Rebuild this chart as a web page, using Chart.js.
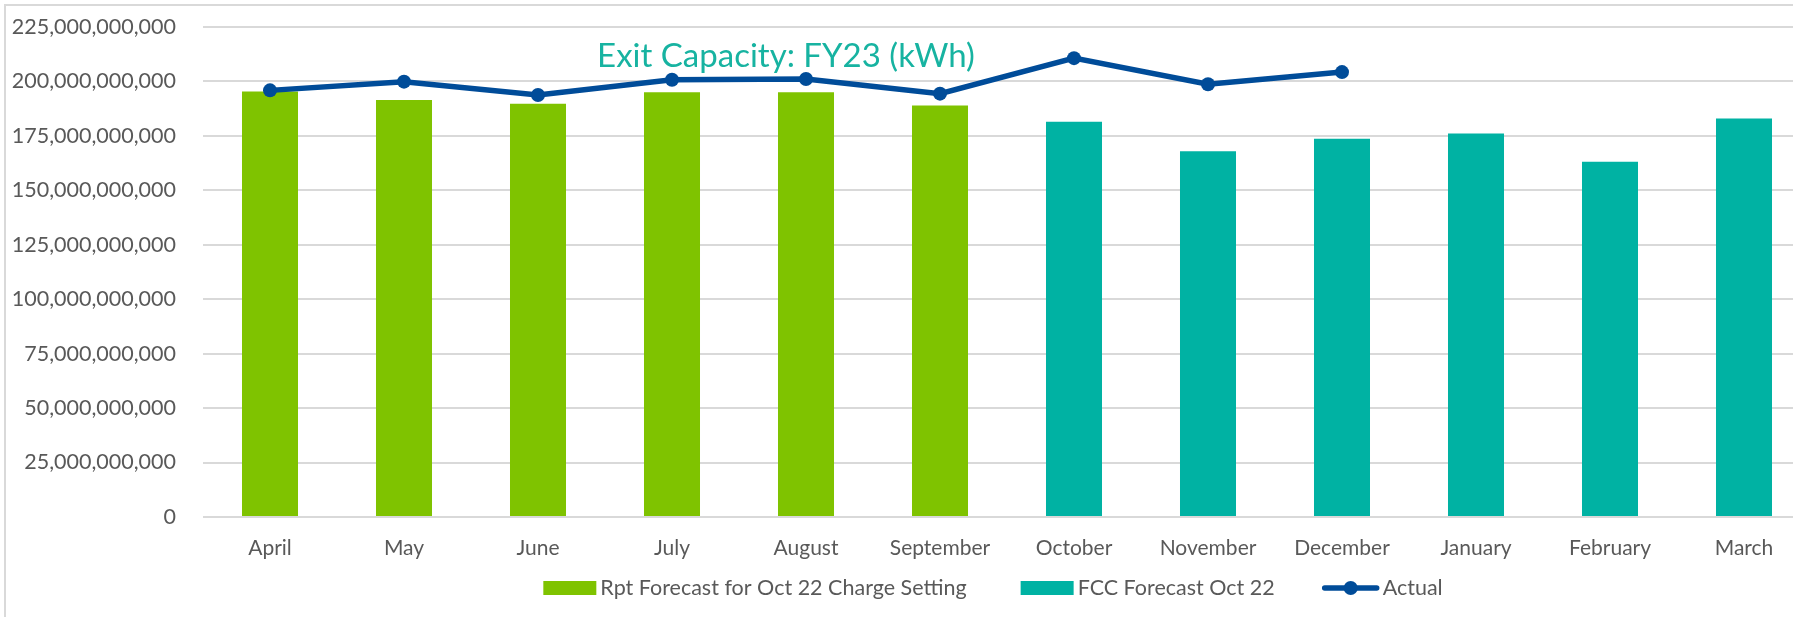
<!DOCTYPE html>
<html>
<head>
<meta charset="utf-8">
<title>Exit Capacity: FY23 (kWh)</title>
<script src="https://cdn.jsdelivr.net/npm/chart.js@4.4.0/dist/chart.umd.min.js"></script>
<style>
    html, body { margin: 0; padding: 0; background: #fff; overflow: hidden; }
    #wrap { width: 1811px; height: 617px; }
</style>
</head>
<body>
<div id="wrap"><canvas id="chart" width="1811" height="617"></canvas></div>
<script>
// ============================================
// Data (kWh)
// ============================================
const months = ['April', 'May', 'June', 'July', 'August', 'September',
    'October', 'November', 'December', 'January', 'February', 'March'];

const rptForecast = [195.4e9, 191.5e9, 189.8e9, 195.0e9, 195.0e9, 189.0e9,
    null, null, null, null, null, null];

const fccForecast = [null, null, null, null, null, null,
    181.5e9, 167.9e9, 173.7e9, 176.1e9, 163.1e9, 183.0e9];

const actual = [195.9e9, 199.9e9, 193.8e9, 200.8e9, 201.1e9, 194.4e9,
    210.7e9, 198.7e9, 204.3e9, null, null, null];

const yTicks = [0, 25e9, 50e9, 75e9, 100e9, 125e9, 150e9, 175e9, 200e9, 225e9];

const chartTitle = 'Exit Capacity: FY23 (kWh)';

// ============================================
// Styling
// ============================================
const FONT = 'Lato, "Open Sans", sans-serif';
const TEXT_GREY = '#595959';
const GRID_GREY = '#D9D9D9';
const GREEN = '#7FC300';
const TEAL = '#00B2A3';
const BLUE = '#004C99';

// Frame, title and legend drawn on the canvas (Excel-like look)
const decorations = {
    id: 'decorations',
    beforeDraw(chart) {
        const ctx = chart.ctx;
        ctx.save();
        ctx.fillStyle = '#fff';
        ctx.fillRect(0, 0, chart.width, chart.height);
        ctx.strokeStyle = GRID_GREY;
        ctx.lineWidth = 2;
        ctx.beginPath();
        ctx.moveTo(5, chart.height);
        ctx.lineTo(5, 5);
        ctx.lineTo(chart.width, 5);
        ctx.stroke();
        ctx.restore();
    },
    afterDraw(chart) {
        const ctx = chart.ctx;
        ctx.save();

        // title
        ctx.font = '33px ' + FONT;
        ctx.fillStyle = '#17B3A1';
        ctx.textAlign = 'center';
        ctx.textBaseline = 'alphabetic';
        ctx.fillText(chartTitle, 786, 67);

        // legend
        ctx.font = '21.5px ' + FONT;
        ctx.textAlign = 'left';
        ctx.textBaseline = 'middle';
        const items = [1, 2, 0].map(i => chart.data.datasets[i]);
        const swatchW = [53, 53, 56], gaps = [54, 48], textGap = 4, cy = 588;
        const widths = items.map((ds, i) => swatchW[i] + textGap + ctx.measureText(ds.label).width);
        const total = widths.reduce((a, b) => a + b, 0) + gaps.reduce((a, b) => a + b, 0);
        let x = 993 - total / 2;
        items.forEach((ds, i) => {
            const w = swatchW[i];
            if (ds.type === 'line') {
                ctx.strokeStyle = ds.borderColor;
                ctx.lineWidth = 5.5;
                ctx.lineCap = 'round';
                ctx.beginPath();
                ctx.moveTo(x + 2, cy);
                ctx.lineTo(x + w - 2, cy);
                ctx.stroke();
                ctx.fillStyle = ds.borderColor;
                ctx.beginPath();
                ctx.arc(x + w / 2, cy, 7, 0, Math.PI * 2);
                ctx.fill();
            } else {
                ctx.fillStyle = ds.backgroundColor;
                ctx.fillRect(x, cy - 7, w, 14);
            }
            ctx.fillStyle = TEXT_GREY;
            ctx.fillText(ds.label, x + w + textGap, cy);
            x += widths[i] + (gaps[i] || 0);
        });
        ctx.restore();
    }
};

new Chart(document.getElementById('chart'), {
    data: {
        labels: months,
        datasets: [
            {
                type: 'line',
                label: 'Actual',
                data: actual,
                borderColor: BLUE,
                backgroundColor: BLUE,
                borderWidth: 5.5,
                pointRadius: 7,
                pointHoverRadius: 7,
                pointBackgroundColor: BLUE,
                pointBorderWidth: 0,
                tension: 0,
                order: 0
            },
            {
                type: 'bar',
                label: 'Rpt Forecast for Oct 22 Charge Setting',
                data: rptForecast,
                backgroundColor: GREEN,
                grouped: false,
                barPercentage: 0.418,
                categoryPercentage: 1,
                order: 1
            },
            {
                type: 'bar',
                label: 'FCC Forecast Oct 22',
                data: fccForecast,
                backgroundColor: TEAL,
                grouped: false,
                barPercentage: 0.418,
                categoryPercentage: 1,
                order: 1
            }
        ]
    },
    options: {
        responsive: false,
        animation: false,
        layout: {
            autoPadding: false,
            padding: { top: 27, left: 0, right: 0, bottom: 56 }
        },
        plugins: {
            legend: { display: false },
            title: { display: false },
            tooltip: { enabled: false }
        },
        scales: {
            x: {
                grid: { display: false, drawTicks: false },
                border: { display: false },
                ticks: {
                    color: TEXT_GREY,
                    font: { family: FONT, size: 21 },
                    padding: 19,
                    maxRotation: 0,
                    autoSkip: false
                },
                afterFit(scale) { scale.height = 44; }
            },
            y: {
                min: 0,
                max: 225e9,
                grid: { color: GRID_GREY, lineWidth: 2, drawTicks: false },
                border: { display: false },
                afterBuildTicks(scale) {
                    scale.ticks = yTicks.map(v => ({ value: v }));
                },
                ticks: {
                    color: TEXT_GREY,
                    font: { family: FONT, size: 21.5 },
                    padding: 27,
                    callback: v => Number(v).toLocaleString('en-US')
                },
                afterFit(scale) {
                    scale.width = 203;
                    scale.paddingTop = 0;
                    scale.paddingBottom = 0;
                }
            }
        }
    },
    plugins: [decorations]
});
</script>
</body>
</html>
